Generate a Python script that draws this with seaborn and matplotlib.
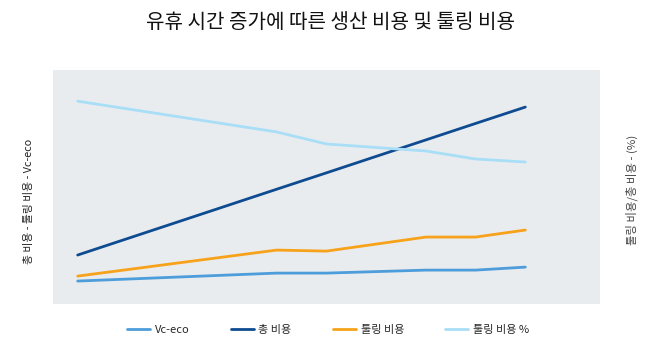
import numpy as np
import pandas as pd
import matplotlib
matplotlib.use("Agg")
import matplotlib.pyplot as plt
import seaborn as sns

# ==============================
# DATA
# ==============================
idle_steps = [0, 4, 5, 7, 8, 9]
vc_eco = [24.6, 33.1, 33.1, 36.3, 36.3, 39.5]
total_cost = [52.4, 122.7, 140.2, 175.4, 193.0, 210.5]
tooling_cost = [29.9, 57.7, 56.6, 71.6, 71.6, 79.1]
tooling_pct = [60.7, 51.5, 47.9, 45.8, 43.4, 42.5]

series_names = ["Vc-eco", "총 비용", "툴링 비용", "툴링 비용 %"]
series_colors = ["#4d9ddb", "#0e4b91", "#f7a21b", "#a9def7"]

title_text = "유휴 시간 증가에 따른 생산 비용 및 툴링 비용"
left_label = "총 비용 - 툴링 비용 - Vc-eco"
right_label = "툴링 비용/총 비용 - (%)"

# ==============================
# STYLE
# ==============================
sns.set_style("white")
plt.rcParams['font.family'] = ['Noto Sans CJK KR', 'DejaVu Sans']

cost_df = pd.DataFrame({
    "x": idle_steps * 3,
    "value": vc_eco + total_cost + tooling_cost,
    "series": [series_names[0]] * 6 + [series_names[1]] * 6 + [series_names[2]] * 6,
})
pct_df = pd.DataFrame({"x": idle_steps, "value": tooling_pct})

fig, ax = plt.subplots(figsize=(6.6, 3.54), dpi=100)
fig.subplots_adjust(left=0.080, right=0.909, top=0.802, bottom=0.141)
ax.set_facecolor("#e9ecef")

sns.lineplot(data=cost_df, x="x", y="value", hue="series",
             palette=dict(zip(series_names[:3], series_colors[:3])),
             linewidth=2.0, ax=ax, legend=False)

ax2 = ax.twinx()
sns.lineplot(data=pct_df, x="x", y="value", color=series_colors[3],
             linewidth=2.0, ax=ax2, legend=False)

ax.set_xlim(-0.5, 10.5)
ax.set_ylim(0, 250)
ax2.set_ylim(0, 70)

for a in (ax, ax2):
    a.set_xticks([])
    a.set_yticks([])
    a.set_xlabel("")
    for s in a.spines.values():
        s.set_visible(False)

ax.set_ylabel(left_label, fontsize=7.8, color="#222222")
ax.yaxis.set_label_coords(-0.035, 0.44)
ax2.set_ylabel(right_label, fontsize=8.2, color="#444444", rotation=90)
ax2.yaxis.set_label_coords(1.047, 0.49)

fig.suptitle(title_text, fontsize=14.5, y=0.965, color="#111111")

# ==============================
# LEGEND
# ==============================
handles = [plt.Line2D([], [], color=c, linewidth=2.0) for c in series_colors]
fig.legend(handles, series_names, loc="center", bbox_to_anchor=(0.497, 0.068),
           ncol=4, frameon=False, fontsize=8, handlelength=2.1,
           columnspacing=3.7, handletextpad=0.4)

fig.savefig("out.png", dpi=100)
